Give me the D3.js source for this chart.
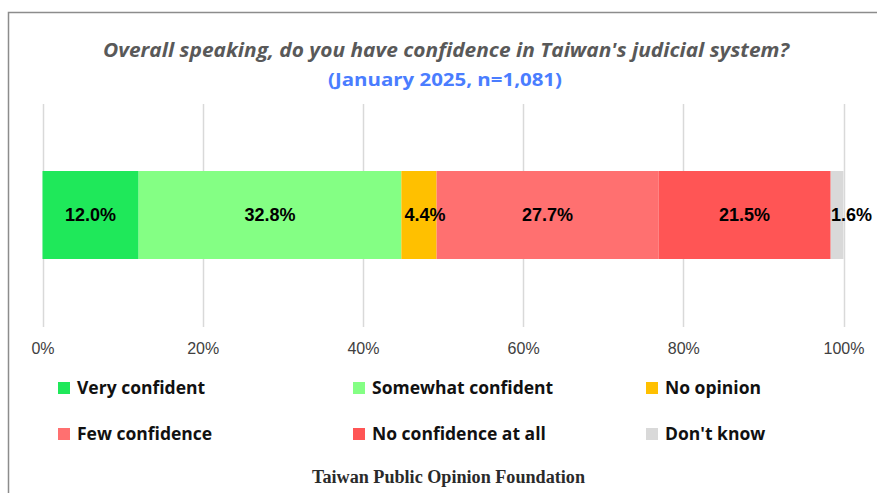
<!DOCTYPE html>
<html><head><meta charset="utf-8">
<script src="https://cdn.jsdelivr.net/npm/d3@7"></script>
<style>body{margin:0;background:#fff;} svg{display:block;}</style>
</head><body>
<svg id="c" width="877" height="493"></svg>
<script>
const categories = ["Very confident","Somewhat confident","No opinion","Few confidence","No confidence at all","Don't know"];
const values = [12.0, 32.8, 4.4, 27.7, 21.5, 1.6];
const colors = ["#1fe85a","#84ff84","#ffc000","#ff7070","#ff5555","#d9d9d9"];
const tickValues = [0,20,40,60,80,100];
const titleText = "Overall speaking, do you have confidence in Taiwan's judicial system?";
const subtitleText = "(January 2025, n=1,081)";
const sourceText = "Taiwan Public Opinion Foundation";

const svg = d3.select("#c");
// frame
svg.append("path").attr("d","M8.5,493 L8.5,12.5 L877,12.5").attr("fill","none").attr("stroke","#8c8c8c").attr("stroke-width",1.5);

svg.append("text").attr("x",103).attr("y",57)
  .attr("font-family","Open Sans").attr("font-style","italic").attr("font-weight","bold")
  .attr("font-size",20).attr("fill","#595959")
  .attr("textLength",686).attr("lengthAdjust","spacingAndGlyphs").text(titleText);
svg.append("text").attr("x",328).attr("y",86)
  .attr("font-family","Open Sans").attr("font-weight","bold")
  .attr("font-size",18).attr("fill","#4a7dff")
  .attr("textLength",234).attr("lengthAdjust","spacingAndGlyphs").text(subtitleText);

const x = d3.scaleLinear().domain([0,100]).range([42.5,843.5]);

// gridlines
svg.append("g").selectAll("line").data(tickValues).join("line")
  .attr("x1",d=>Math.round(x(d))+0.5).attr("x2",d=>Math.round(x(d))+0.5)
  .attr("y1",104).attr("y2",327).attr("stroke","#d9d9d9").attr("stroke-width",1.5);

// axis labels
const ax = svg.append("g").attr("transform","translate(0,327)")
  .call(d3.axisBottom(x).tickValues(tickValues).tickFormat(d=>d+"%").tickSize(0).tickPadding(16));
ax.select(".domain").remove();
ax.selectAll("text").attr("font-family","Liberation Sans, Arial").attr("font-size",16).attr("fill","#404040");

// stacked segments
let cum = 0;
const segs = values.map((v,i)=>{const s={cat:categories[i],v,x0:cum,x1:cum+v,c:colors[i]};cum+=v;return s;});
const bh = 88, by = 171;
svg.append("g").selectAll("rect").data(segs).join("rect")
  .attr("x",d=>x(d.x0)).attr("width",d=>x(d.x1)-x(d.x0))
  .attr("y",by).attr("height",bh).attr("fill",d=>d.c);

svg.append("g").selectAll("text").data(segs).join("text")
  .attr("x",(d,i)=> i===segs.length-1 ? x(100)+8 : (x(d.x0)+x(d.x1))/2 + (d.v<6?6:0))
  .attr("y",by+bh/2+6)
  .attr("text-anchor","middle")
  .attr("font-family","Liberation Sans, Arial").attr("font-weight","bold").attr("font-size",18)
  .attr("fill","#000").text(d=>d.v.toFixed(1)+"%");

// legend
const legX = [58,353,646], legY = [388,434];
const lg = svg.append("g").selectAll("g").data(categories).join("g")
  .attr("transform",(d,i)=>`translate(${legX[i%3]},${legY[Math.floor(i/3)]})`);
lg.append("rect").attr("x",0).attr("y",-6).attr("width",12).attr("height",12).attr("fill",(d,i)=>colors[i]);
lg.append("text").attr("x",19).attr("y",6).attr("font-family","Open Sans").attr("font-weight","bold")
  .attr("font-size",17.5).attr("fill","#111").text(d=>d);

svg.append("text").attr("x",312).attr("y",483)
  .attr("font-family","Liberation Serif, Times New Roman").attr("font-weight","bold")
  .attr("font-size",18).attr("fill","#2a2a2a")
  .attr("textLength",273).attr("lengthAdjust","spacingAndGlyphs").text(sourceText);
</script>
</body></html>
